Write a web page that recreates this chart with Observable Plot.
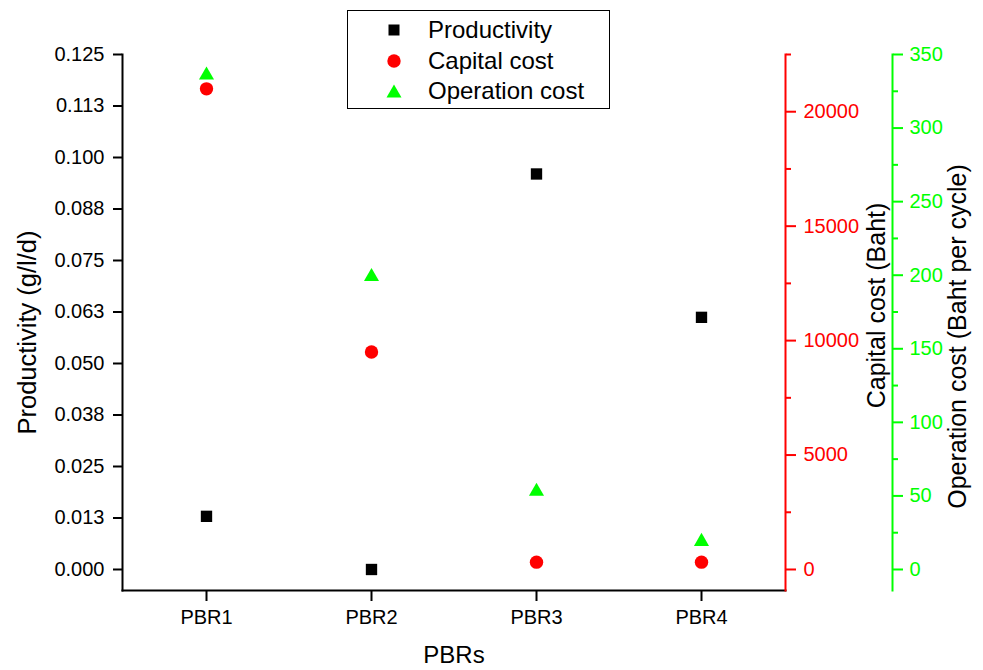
<!DOCTYPE html>
<html><head><meta charset="utf-8">
<script src="https://cdn.jsdelivr.net/npm/d3@7"></script>
<script src="https://cdn.jsdelivr.net/npm/@observablehq/plot@0.6"></script>
<style>
html,body{margin:0;padding:0;background:#fff;}
#wrap{position:relative;width:983px;height:670px;font-family:"Liberation Sans",Arial,sans-serif;}
#legend{position:absolute;left:347px;top:10px;width:261px;height:97px;border:1px solid #000;background:#fff;}
.row{position:absolute;left:0;width:100%;height:30px;}
.row svg{position:absolute;left:36px;top:5px;}
.row span{position:absolute;left:80px;top:0;line-height:30px;font-size:24px;white-space:nowrap;color:#000;}
</style></head>
<body><div id="wrap"></div>
<script>
const categories = ["PBR1", "PBR2", "PBR3", "PBR4"];
const productivity = [0.0129, 0, 0.096, 0.0612];
const capitalCost = [21000, 9500, 320, 320];
const operationCost = [336, 199, 53, 19];

const prodTicks = [0, 0.0125, 0.025, 0.0375, 0.05, 0.0625, 0.075, 0.0875, 0.1, 0.1125, 0.125];
const prodTickLabels = ["0.000", "0.013", "0.025", "0.038", "0.050", "0.063", "0.075", "0.088", "0.100", "0.113", "0.125"];
const capitalTicks = [0, 5000, 10000, 15000, 20000];
const capitalMinorTicks = [2500, 7500, 12500, 17500, 22500];
const operationTicks = [0, 50, 100, 150, 200, 250, 300, 350];
const operationMinorTicks = [25, 75, 125, 175, 225, 275, 325];

const seriesNames = ["Productivity", "Capital cost", "Operation cost"];
const seriesColors = ["#000000", "#ff0000", "#00ff00"];
const seriesSymbols = ["square", "circle", "triangle"];

const prodDomain = [-0.0051, 0.125];
const capitalMax = 22500;
const operationMax = 350;

const capToY = v => v / capitalMax * prodDomain[1];
const opToY = v => v / operationMax * prodDomain[1];

const rows = categories.map((c, i) => ({
  category: c,
  productivity: productivity[i],
  capital: capitalCost[i],
  operation: operationCost[i]
}));

const font = '"Liberation Sans", Arial, sans-serif';

const chart = Plot.plot({
  width: 983,
  height: 670,
  marginLeft: 122,
  marginRight: 198,
  marginTop: 54,
  marginBottom: 80,
  style: {fontFamily: font, fontSize: "20px", color: "#000", background: "#fff", overflow: "visible"},
  x: {type: "point", domain: categories, padding: 0.5},
  y: {domain: prodDomain},
  marks: [
    Plot.frame({anchor: "left", stroke: "#000", strokeWidth: 2}),
    Plot.frame({anchor: "bottom", stroke: "#000", strokeWidth: 2}),
    Plot.frame({anchor: "right", stroke: seriesColors[1], strokeWidth: 2}),
    Plot.frame({anchor: "right", stroke: seriesColors[2], strokeWidth: 2, dx: 107}),
    Plot.axisX({anchor: "bottom", tickSize: 11, tickPadding: 8, strokeWidth: 2, fontSize: 20, label: null}),
    Plot.axisY({anchor: "left", ticks: prodTicks, tickSize: 9, tickPadding: 9, strokeWidth: 2, fontSize: 20, label: null,
      tickFormat: d => prodTickLabels[prodTicks.indexOf(d)]}),
    Plot.axisY({anchor: "right", ticks: capitalTicks.map(capToY), tickSize: 10, tickPadding: 8, strokeWidth: 2, fontSize: 20, label: null,
      color: seriesColors[1], tickFormat: d => String(Math.round(d / prodDomain[1] * capitalMax))}),
    Plot.axisY({anchor: "right", ticks: capitalMinorTicks.map(capToY), tickSize: 5, strokeWidth: 2, label: null,
      color: seriesColors[1], tickFormat: () => ""}),
    Plot.axisY({anchor: "right", ticks: operationTicks.map(opToY), tickSize: 10, tickPadding: 7, strokeWidth: 2, fontSize: 20, label: null,
      dx: 107, color: seriesColors[2], tickFormat: d => String(Math.round(d / prodDomain[1] * operationMax))}),
    Plot.axisY({anchor: "right", ticks: operationMinorTicks.map(opToY), tickSize: 5, strokeWidth: 2, label: null,
      dx: 107, color: seriesColors[2], tickFormat: () => ""}),
    Plot.dot(rows, {x: "category", y: "productivity", symbol: seriesSymbols[0], fill: seriesColors[0], r: 6.4}),
    Plot.dot(rows, {x: "category", y: d => capToY(d.capital), symbol: seriesSymbols[1], fill: seriesColors[1], r: 6.7}),
    Plot.dot(rows, {x: "category", y: d => opToY(d.operation), symbol: seriesSymbols[2], fill: seriesColors[2], r: 5.6}),
    Plot.text(["Productivity (g/l/d)"], {text: d => d, frameAnchor: "left", rotate: -90, textAnchor: "middle", lineAnchor: "middle", dx: -95, dy: 10, fontSize: 25.5, fill: "#000"}),
    Plot.text(["PBRs"], {text: d => d, frameAnchor: "bottom", textAnchor: "middle", lineAnchor: "middle", dy: 65, fontSize: 24, fill: "#000"}),
    Plot.text(["Capital cost (Baht)"], {text: d => d, frameAnchor: "right", rotate: -90, textAnchor: "middle", lineAnchor: "middle", dx: 91, dy: -17, fontSize: 25, fill: "#000"}),
    Plot.text(["Operation cost (Baht per cycle)"], {text: d => d, frameAnchor: "right", rotate: -90, textAnchor: "middle", lineAnchor: "middle", dx: 172, dy: 14, fontSize: 25, fill: "#000"})
  ]
});

const wrap = document.getElementById("wrap");
wrap.appendChild(chart);

// Legend
const legend = document.createElement("div");
legend.id = "legend";
const iconSvg = (sym, color) => {
  if (sym === "square") return `<svg width="20" height="20"><rect x="4.5" y="4.5" width="11" height="11" fill="${color}"/></svg>`;
  if (sym === "circle") return `<svg width="20" height="20"><circle cx="10" cy="10" r="6.7" fill="${color}"/></svg>`;
  return `<svg width="20" height="20"><path d="M10,3.5L17.5,16.5L2.5,16.5Z" fill="${color}"/></svg>`;
};
const rowTops = [4, 35, 65];
seriesNames.forEach((name, i) => {
  const row = document.createElement("div");
  row.className = "row";
  row.style.top = rowTops[i] + "px";
  row.innerHTML = iconSvg(seriesSymbols[i], seriesColors[i]) + `<span>${name}</span>`;
  legend.appendChild(row);
});
wrap.appendChild(legend);
</script>
</body></html>
